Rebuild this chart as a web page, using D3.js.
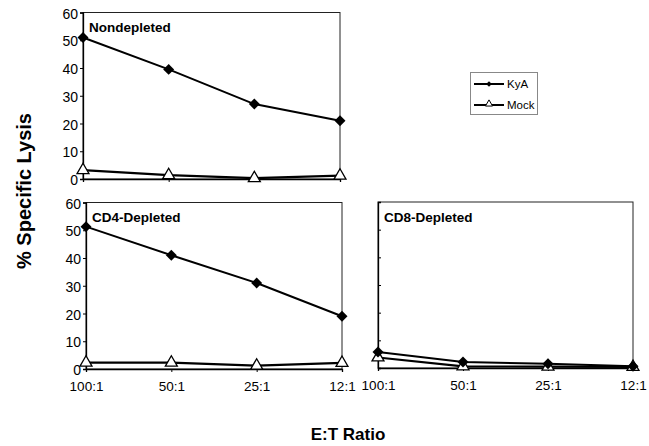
<!DOCTYPE html>
<html>
<head>
<meta charset="utf-8">
<script src="https://cdn.jsdelivr.net/npm/d3@7"></script>
<style>
  html, body { margin: 0; padding: 0; background: #fff; }
  svg { display: block; }
  text { font-family: "Liberation Sans", Arial, sans-serif; fill: #000; }
</style>
</head>
<body>
<svg id="chart" width="649" height="446"></svg>
<script>
// ---- data ----
const categories = ["100:1", "50:1", "25:1", "12:1"];
const yTicks = [0, 10, 20, 30, 40, 50, 60];
const seriesNames = ["KyA", "Mock"];
const panelTitles = ["Nondepleted", "CD4-Depleted", "CD8-Depleted"];
const nondepletedKyA = [51, 39.5, 27, 21];
const nondepletedMock = [3.2, 1.4, 0.3, 1.2];
const cd4KyA = [51.3, 41, 31, 19];
const cd4Mock = [2.3, 2.3, 1.2, 2.2];
const cd8KyA = [5.8, 2.2, 1.5, 0.6];
const cd8Mock = [3.8, 0.6, 0.5, 0.4];

// ---- layout ----
const svg = d3.select("#chart");
const panels = [
  { title: panelTitles[0], kya: nondepletedKyA, mock: nondepletedMock,
    x0: 83, x1: 340, y0: 179, y1: 12.5, yLabels: true, xLabels: false, inTicks: false },
  { title: panelTitles[1], kya: cd4KyA, mock: cd4Mock,
    x0: 86, x1: 342, y0: 369, y1: 202.5, yLabels: true, xLabels: true, inTicks: false },
  { title: panelTitles[2], kya: cd8KyA, mock: cd8Mock,
    x0: 378, x1: 633, y0: 368, y1: 202, yLabels: false, xLabels: true, inTicks: true }
];

const diamond = d3.symbol().type(d3.symbolSquare).size(60);
const triangle = d3.symbol().type(d3.symbolTriangle).size(62);

panels.forEach(p => {
  const x = d3.scalePoint().domain(categories).range([p.x0, p.x1]).padding(0);
  const y = d3.scaleLinear().domain([0, 60]).range([p.y0, p.y1]);
  const g = svg.append("g");

  // frame
  g.append("rect")
    .attr("x", p.x0).attr("y", p.y1)
    .attr("width", p.x1 - p.x0).attr("height", p.y0 - p.y1)
    .attr("fill", "none").attr("stroke", "#222").attr("stroke-width", 1);

  // y axis
  const yAxis = d3.axisLeft(y).tickValues(yTicks)
    .tickSize(p.inTicks ? -3 : 3).tickPadding(p.inTicks ? 3 : 2)
    .tickFormat(p.yLabels ? d3.format("d") : () => "");
  const ya = g.append("g").attr("transform", `translate(${p.x0},0)`).call(yAxis);
  ya.select(".domain").attr("stroke", "#000").attr("stroke-width", 1.3);
  ya.selectAll(".tick line").attr("stroke", "#000");
  ya.selectAll(".tick text")
    .attr("font-size", 14).attr("font-family", "Liberation Sans, Arial, sans-serif")
    .attr("fill", "#000").attr("dy", "0.4em");

  // x axis
  const xAxis = d3.axisBottom(x).tickSize(3).tickPadding(9)
    .tickFormat(p.xLabels ? (d => d) : () => "");
  const xa = g.append("g").attr("transform", `translate(0,${p.y0})`).call(xAxis);
  xa.select(".domain").attr("stroke", "#000").attr("stroke-width", 1.3);
  xa.selectAll(".tick line").attr("stroke", "#000");
  xa.selectAll(".tick text")
    .attr("font-size", 13.5).attr("font-family", "Liberation Sans, Arial, sans-serif")
    .attr("fill", "#000");

  // title
  g.append("text")
    .attr("x", p.x0 + 6).attr("y", p.y1 + 19.5)
    .attr("font-size", 13.5).attr("font-weight", "bold")
    .text(p.title);

  const line = d3.line().x((d, i) => x(categories[i])).y(d => y(d));

  // Mock series
  g.append("path").datum(p.mock)
    .attr("d", line).attr("fill", "none")
    .attr("stroke", "#000").attr("stroke-width", 2.2);
  // KyA series
  g.append("path").datum(p.kya)
    .attr("d", line).attr("fill", "none")
    .attr("stroke", "#000").attr("stroke-width", 2);

  g.selectAll(".mk").data(p.mock).join("path")
    .attr("transform", (d, i) => `translate(${x(categories[i])},${y(d)})`)
    .attr("d", triangle).attr("fill", "#fff")
    .attr("stroke", "#000").attr("stroke-width", 1.3);
  g.selectAll(".kk").data(p.kya).join("path")
    .attr("transform", (d, i) => `translate(${x(categories[i])},${y(d)}) rotate(45)`)
    .attr("d", diamond).attr("fill", "#000");
});

// legend
const lg = svg.append("g");
lg.append("rect").attr("x", 470.5).attr("y", 72.5).attr("width", 67).attr("height", 42)
  .attr("fill", "#fff").attr("stroke", "#888").attr("stroke-width", 1);
const legendRows = [{ name: seriesNames[0], y: 84 }, { name: seriesNames[1], y: 105 }];
legendRows.forEach((r, i) => {
  lg.append("line").attr("x1", 474).attr("x2", 504).attr("y1", r.y).attr("y2", r.y)
    .attr("stroke", "#000").attr("stroke-width", 2);
  if (i === 0) {
    lg.append("path").attr("transform", `translate(489,${r.y}) rotate(45)`)
      .attr("d", d3.symbol().type(d3.symbolSquare).size(16)).attr("fill", "#000");
  } else {
    lg.append("path").attr("transform", `translate(489,${r.y - 1})`)
      .attr("d", d3.symbol().type(d3.symbolTriangle).size(22))
      .attr("fill", "#fff").attr("stroke", "#000").attr("stroke-width", 1);
  }
  lg.append("text").attr("x", 507).attr("y", r.y + 4)
    .attr("font-size", 11.5).text(r.name);
});

// axis titles
svg.append("text")
  .attr("transform", "translate(31,191) rotate(-90)")
  .attr("text-anchor", "middle").attr("font-size", 20).attr("font-weight", "bold")
  .text("% Specific Lysis");
svg.append("text")
  .attr("x", 348).attr("y", 440)
  .attr("text-anchor", "middle").attr("font-size", 17).attr("font-weight", "bold")
  .text("E:T Ratio");
</script>
</body>
</html>
